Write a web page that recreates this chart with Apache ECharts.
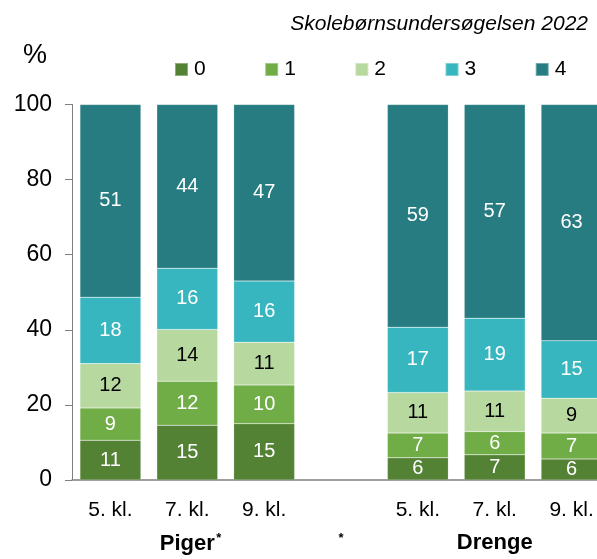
<!DOCTYPE html>
<html><head><meta charset="utf-8">
<script src="https://cdn.jsdelivr.net/npm/echarts@6/dist/echarts.min.js"></script>
<style>html,body{margin:0;padding:0;background:#fff}#c{width:597px;height:559px}</style>
</head><body><div id="c"></div>
<script>
const categories = ['5. kl.', '7. kl.', '9. kl.', '', '5. kl.', '7. kl.', '9. kl.'];
const groupLabels = ['', 'Piger', '', '*', '', 'Drenge', ''];
const seriesNames = ['0', '1', '2', '3', '4'];
const s0 = [10.6, 14.6, 15.0, '-', 5.9, 6.7, 5.6];
const s1 = [8.6, 11.7, 10.3, '-', 6.6, 6.2, 6.9];
const s2 = [11.8, 13.8, 11.4, '-', 10.8, 10.8, 9.3];
const s3 = [17.7, 16.3, 16.3, '-', 17.4, 19.4, 15.3];
const s4 = [51.3, 43.6, 47.0, '-', 59.3, 56.9, 62.9];
const yTicks = [0, 20, 40, 60, 80, 100];
const colors = ['#548235', '#70ad47', '#b7d9a0', '#38b6bf', '#267c80'];
const labelColors = ['#fff', '#fff', '#000', '#fff', '#fff'];
const FONT = 'Liberation Sans, Arial, sans-serif';

const chart = echarts.init(document.getElementById('c'), null, {renderer: 'canvas'});
const data = [s0, s1, s2, s3, s4];
chart.setOption({
  animation: false,
  textStyle: {fontFamily: FONT},
  title: {
    text: 'Skolebørnsundersøgelsen 2022',
    right: 9, top: 14, padding: 0,
    textStyle: {fontFamily: FONT, fontStyle: 'italic', fontWeight: 'normal', fontSize: 21, color: '#000'}
  },
  legend: {
    left: 174, top: 59, padding: 0,
    itemWidth: 13, itemHeight: 13, itemGap: 58.5,
    icon: 'rect',
    textStyle: {fontFamily: FONT, fontSize: 21, color: '#000', padding: [0, 0, 0, 1]},
    data: seriesNames
  },
  graphic: [{
    type: 'text', left: 23, top: 42,
    style: {text: '%', font: '27px Liberation Sans, Arial', fill: '#000'}
  }],
  grid: {left: 72, width: 538, top: 104.5, bottom: 79, containLabel: false, outerBoundsMode: 'none'},
  xAxis: [{
    type: 'category', data: categories,
    axisLine: {lineStyle: {color: '#7f7f7f', width: 1.5}},
    axisTick: {show: false},
    axisLabel: {fontFamily: FONT, fontSize: 21, color: '#000', margin: 20, interval: 0}
  }, {
    type: 'category', data: groupLabels, position: 'bottom', offset: 0,
    axisLine: {show: false}, axisTick: {show: false},
    axisLabel: {
      interval: 0, margin: 52,
      formatter: function (v) {
        if (v === 'Piger') return '{h|}{b|Piger}{s|*}';
        if (v === '*') return '{m|*}';
        return '{b|' + v + '}';
      },
      rich: {
        b: {fontFamily: FONT, fontSize: 22, fontWeight: 'bold', color: '#000'},
        h: {width: 8},
        s: {fontFamily: FONT, fontSize: 13, fontWeight: 'bold', color: '#000', width: 8, align: 'left', verticalAlign: 'top', padding: [0, 0, 10, 0]},
        m: {fontFamily: FONT, fontSize: 13, fontWeight: 'bold', color: '#000', padding: [0, 0, 10, 0]}
      }
    }
  }],
  yAxis: {
    type: 'value', min: 0, max: 100, interval: 20,
    axisLine: {show: true, lineStyle: {color: '#7f7f7f', width: 1}},
    axisTick: {show: true, length: 7, lineStyle: {color: '#7f7f7f'}},
    splitLine: {show: false},
    axisLabel: {fontFamily: FONT, fontSize: 23, color: '#000', margin: 20,
      formatter: function (v) { return yTicks.indexOf(v) >= 0 ? String(v) : ''; }}
  },
  series: data.map(function (d, i) {
    return {
      name: seriesNames[i], type: 'bar', stack: 'all', data: d,
      barWidth: '79.3%',
      itemStyle: {color: colors[i], borderColor: 'rgba(255,255,255,0.35)', borderWidth: 0.5},
      label: {show: true, position: 'inside', fontFamily: FONT, fontSize: 20, color: labelColors[i],
        formatter: function (p) { return Math.round(p.value); }}
    };
  })
});
</script></body></html>
